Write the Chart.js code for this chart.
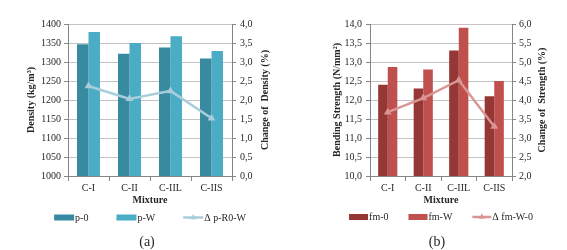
<!DOCTYPE html>
<html><head><meta charset="utf-8">
<script src="https://cdn.jsdelivr.net/npm/chart.js@4/dist/chart.umd.min.js"></script>
<style>
body{margin:0;background:#fff;width:567px;height:250px;position:relative;overflow:hidden;font-family:"Liberation Serif",serif}
.w{position:absolute;top:0;height:250px}
#w1{left:0;width:283px}
#w2{left:283px;width:284px}
.cap{position:absolute;top:234px;font-size:14px;color:#262626;width:40px;text-align:center}
</style></head>
<body>
<div class="w" id="w1"><canvas id="c1" width="283" height="250"></canvas></div>
<div class="w" id="w2"><canvas id="c2" width="284" height="250"></canvas></div>
<div class="cap" style="left:127px">(a)</div>
<div class="cap" style="left:417px">(b)</div>
<script>
const categories = ['C-I', 'C-II', 'C-IIL', 'C-IIS'];
const density0 = [1347, 1322, 1338, 1309];
const densityW = [1379, 1350, 1368, 1329];
const densityChange = [2.37, 2.03, 2.24, 1.52];
const strength0 = [12.4, 12.3, 13.3, 12.1];
const strengthW = [12.87, 12.8, 13.9, 12.5];
const strengthChange = [3.68, 4.05, 4.52, 3.3];
const labelsA = ['p-0', 'p-W', '\u0394 p-R0-W'];
const labelsB = ['fm-0', 'fm-W', '\u0394 fm-W-0'];

const FONT = '"Liberation Serif", "Times New Roman", serif';
const TXT = '#262626';
const AXIS = '#868686';
const GRID = '#c3c3c3';
Chart.defaults.font.family = FONT;
Chart.defaults.font.size = 10;
Chart.defaults.color = TXT;

const comma = v => Number(v).toFixed(1).replace('.', ',');

const extras = {
  id: 'extras',
  afterDraw(chart, args, o) {
    const ctx = chart.ctx, ca = chart.chartArea;
    ctx.save();
    // right axis title, reading bottom-to-top
    ctx.font = 'bold 10px ' + FONT;
    ctx.fillStyle = TXT;
    ctx.textAlign = 'center';
    ctx.textBaseline = 'middle';
    ctx.translate(ca.right + o.rightTitleDx, (ca.top + ca.bottom) / 2);
    ctx.rotate(-Math.PI / 2);
    ctx.fillText(o.rightTitle, 0, 0);
    ctx.setTransform(1, 0, 0, 1, 0, 0);
    // legend
    ctx.font = '10px ' + FONT;
    const box = o.box, gap = o.gap, sp = o.spacing;
    const ds = chart.data.datasets;
    const widths = ds.map(d => box + gap + ctx.measureText(d.label).width);
    const total = widths.reduce((a, b) => a + b, 0) + sp * (ds.length - 1);
    let x = (ca.left + ca.right) / 2 - total / 2;
    const y = ca.bottom + o.legendDy;
    ds.forEach((d, i) => {
      if (d.type === 'line') {
        ctx.strokeStyle = d.borderColor;
        ctx.lineWidth = 2.5;
        ctx.beginPath(); ctx.moveTo(x, y); ctx.lineTo(x + box, y); ctx.stroke();
        ctx.fillStyle = d.borderColor;
        Chart.helpers.drawPoint(ctx, {pointStyle: 'triangle', radius: 3.5, rotation: 0, borderWidth: 0}, x + box / 2, y);
      } else {
        ctx.fillStyle = d.backgroundColor;
        ctx.fillRect(x, y - 3, box, 6);
      }
      ctx.fillStyle = TXT;
      ctx.textAlign = 'left';
      ctx.textBaseline = 'middle';
      ctx.fillText(d.label, x + box + gap, y + 0.5);
      x += widths[i] + sp;
    });
    ctx.restore();
  }
};

function makeChart(id, cfg) {
  return new Chart(document.getElementById(id), {
    data: {
      labels: categories,
      datasets: [
        {type: 'bar', label: cfg.labels[0], data: cfg.a, backgroundColor: cfg.colA, yAxisID: 'y', order: 1,
         categoryPercentage: cfg.catPct, barPercentage: 1},
        {type: 'bar', label: cfg.labels[1], data: cfg.b, backgroundColor: cfg.colB, yAxisID: 'y', order: 1,
         categoryPercentage: cfg.catPct, barPercentage: 1},
        {type: 'line', label: cfg.labels[2], data: cfg.c, borderColor: cfg.colC, backgroundColor: cfg.colC,
         borderWidth: 2.5, pointStyle: 'triangle', pointRadius: 4.5, pointBackgroundColor: cfg.colC,
         pointBorderWidth: 0, yAxisID: 'y1', order: 0, tension: 0}
      ]
    },
    options: {
      responsive: false,
      animation: false,
      layout: {padding: {top: 24, bottom: 44, left: 0, right: 0}},
      plugins: {
        legend: {display: false},
        tooltip: {enabled: false},
        extras: cfg.extras
      },
      scales: {
        x: {
          offset: true,
          grid: {display: true, drawOnChartArea: false, drawTicks: true, tickLength: 5, offset: true, color: AXIS},
          border: {color: AXIS},
          ticks: {padding: 1, color: TXT, font: {size: 10}},
          title: {display: true, text: 'Mixture', font: {size: 10, weight: 'bold'}, color: TXT, padding: {top: 0, bottom: 0}},
          afterFit: s => { s.height = 30; }
        },
        y: {
          position: 'left',
          min: cfg.yMin, max: cfg.yMax,
          ticks: {stepSize: cfg.yStep, padding: cfg.yPad, color: TXT, callback: cfg.yFmt},
          grid: {color: GRID, tickColor: AXIS, tickLength: 4},
          border: {color: AXIS},
          title: {display: true, text: cfg.yTitle, font: {size: 10, weight: 'bold'}, color: TXT, padding: {top: cfg.yTitlePad, bottom: 0}},
          afterFit: s => { s.width = cfg.yWidth; }
        },
        y1: {
          position: 'right',
          min: cfg.y1Min, max: cfg.y1Max,
          ticks: {stepSize: 0.5, padding: cfg.y1Pad, color: TXT, callback: comma},
          grid: {drawOnChartArea: false, drawTicks: true, tickLength: 4, color: AXIS},
          border: {color: AXIS},
          afterFit: s => { s.width = cfg.y1Width; }
        }
      }
    },
    plugins: [extras]
  });
}

makeChart('c1', {
  labels: labelsA, a: density0, b: densityW, c: densityChange,
  colA: '#378a9f', colB: '#4bacc6', colC: '#a8cddb', catPct: 0.56,
  yMin: 1000, yMax: 1400, yStep: 50, yPad: 3, yFmt: v => v,
  yTitle: 'Density (kg/m\u00b3)', yTitlePad: 25, yWidth: 68,
  y1Min: 0, y1Max: 4, y1Pad: 4, y1Width: 51,
  extras: {rightTitle: 'Change of  Density (%)', rightTitleDx: 33, box: 20, gap: 1, spacing: 28, legendDy: 41.5}
});

makeChart('c2', {
  labels: labelsB, a: strength0, b: strengthW, c: strengthChange,
  colA: '#953735', colB: '#c0504d', colC: '#d99694', catPct: 0.54,
  yMin: 10, yMax: 14, yStep: 0.5, yPad: 4, yFmt: comma,
  yTitle: 'Bending Strength (N/mm\u00b2)', yTitlePad: 48, yWidth: 87,
  y1Min: 2, y1Max: 6, y1Pad: 3, y1Width: 55,
  extras: {rightTitle: 'Change of  Strength (%)', rightTitleDx: 30, box: 19, gap: 1, spacing: 20, legendDy: 41}
});
</script>
</body></html>
